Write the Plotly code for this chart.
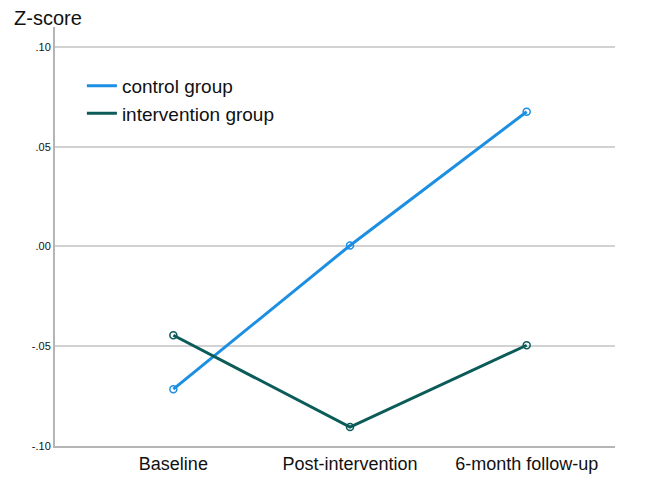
import plotly.graph_objects as go

categories = ["Baseline", "Post-intervention", "6-month follow-up"]
control = [-0.0715, 0.0005, 0.0675]
intervention = [-0.0445, -0.0905, -0.0495]
ytick_vals = [-0.10, -0.05, 0.00, 0.05, 0.10]
ytick_text = ["-.10", "-.05", ".00", ".05", ".10"]

c_ctrl = "#1c8fe3"
c_int = "#0b5c58"

fig = go.Figure()
fig.add_trace(go.Scatter(
    x=categories, y=control, mode="lines+markers", name="control group",
    showlegend=False,
    line=dict(color=c_ctrl, width=3),
    marker=dict(symbol="circle-open", size=7, color=c_ctrl, line=dict(width=1.5)),
))
fig.add_trace(go.Scatter(
    x=categories, y=intervention, mode="lines+markers", name="intervention group",
    showlegend=False,
    line=dict(color=c_int, width=3),
    marker=dict(symbol="circle-open", size=7, color=c_int, line=dict(width=1.5)),
))
# legend entries (line only, as in the reference)
fig.add_trace(go.Scatter(x=[None], y=[None], mode="lines", name="control group",
                         line=dict(color=c_ctrl, width=3)))
fig.add_trace(go.Scatter(x=[None], y=[None], mode="lines", name="intervention group",
                         line=dict(color=c_int, width=3)))

# page body adds an 8px margin; compensate so the plot sits where the reference has it
fig.update_layout(
    width=637, height=470,
    margin=dict(l=47, r=30, t=19, b=32),
    paper_bgcolor="white", plot_bgcolor="white",
    font=dict(family="Liberation Sans, Arial, sans-serif", color="#111111"),
    showlegend=True,
    legend=dict(x=0.048, y=0.905, xanchor="left", yanchor="top",
                font=dict(size=19, color="#111111"), bgcolor="rgba(0,0,0,0)",
                tracegroupgap=0, itemwidth=30),
    xaxis=dict(
        type="category", range=[-0.67, 2.5], automargin=False,
        showgrid=False, zeroline=False, showline=True, linecolor="#b5b5b5", linewidth=2,
        ticks="", tickfont=dict(size=18, color="#111111"),
    ),
    yaxis=dict(
        range=[-0.1, 0.11], tickmode="array", tickvals=ytick_vals, ticktext=ytick_text,
        automargin=False,
        showgrid=True, gridcolor="#d2d2d2", gridwidth=1.5, zeroline=False,
        showline=True, linecolor="#b5b5b5", linewidth=2,
        ticks="", tickfont=dict(size=11, color="#111111"),
    ),
)
fig.add_annotation(text="Z-score", xref="paper", yref="paper", x=-0.077, y=1.022,
                   xanchor="left", yanchor="middle", showarrow=False,
                   font=dict(size=20, color="#111111"))

fig.write_html("out.html")
